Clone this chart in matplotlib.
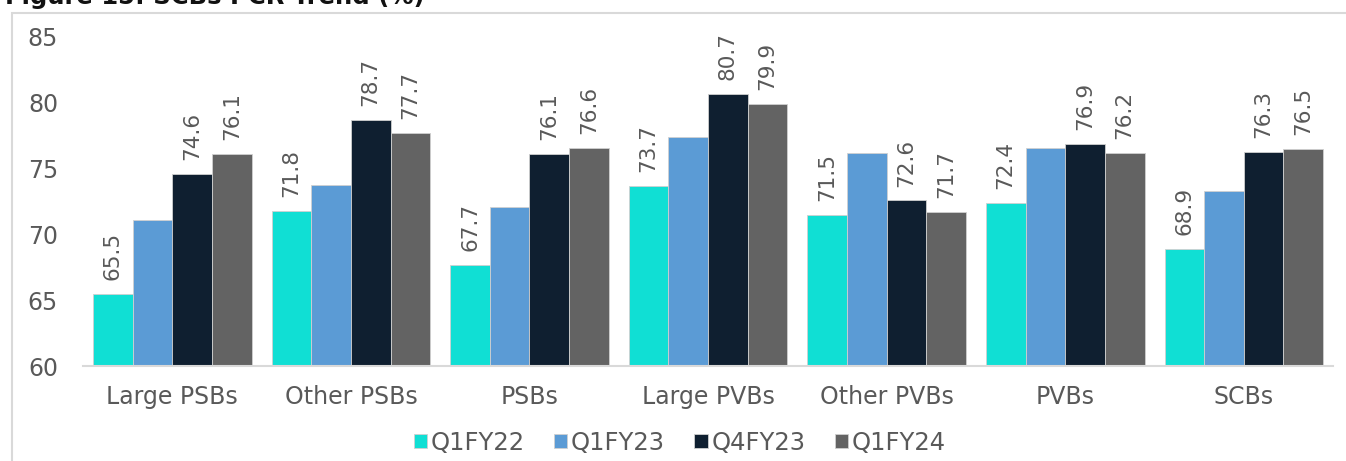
import numpy as np
import matplotlib
matplotlib.use("Agg")
import matplotlib.pyplot as plt
from matplotlib.patches import Rectangle

# PCR by bank group, four quarters
categories = ["Large PSBs", "Other PSBs", "PSBs", "Large PVBs", "Other PVBs", "PVBs", "SCBs"]
quarters = ["Q1FY22", "Q1FY23", "Q4FY23", "Q1FY24"]
q1fy22 = [65.5, 71.8, 67.7, 73.7, 71.5, 72.4, 68.9]
q1fy23 = [71.1, 73.8, 72.1, 77.4, 76.2, 76.6, 73.3]
q4fy23 = [74.6, 78.7, 76.1, 80.7, 72.6, 76.9, 76.3]
q1fy24 = [76.1, 77.7, 76.6, 79.9, 71.7, 76.2, 76.5]
# Q1FY23 bars carry no value labels
show_label = [True, False, True, True]

colors = ["#10DFD4", "#5B9BD5", "#0F1F30", "#636363"]
text_color = "#595959"

plt.rcParams["font.family"] = ["DejaVu Sans"]

fig = plt.figure(figsize=(13.46, 4.61), dpi=100)
ax = fig.add_axes([0.0617, 0.205, 0.9287, 0.7148])

series = [q1fy22, q1fy23, q4fy23, q1fy24]
x = np.arange(len(categories))
width = 0.222

for i, (vals, name) in enumerate(zip(series, quarters)):
    pos = x + (i - 1.5) * width
    bars = ax.bar(pos, vals, width, color=colors[i], label=name,
                  edgecolor="#d0d0d0", linewidth=0.6, zorder=2)
    if show_label[i]:
        for b, v in zip(bars, vals):
            ax.annotate(f"{v:.1f}", (b.get_x() + b.get_width() / 2, v),
                        xytext=(0, 10), textcoords="offset points",
                        rotation=90, ha="center", va="bottom",
                        fontsize=15.5, color=text_color)

ax.set_ylim(60, 85)
ax.set_yticks([60, 65, 70, 75, 80, 85])
ax.set_xlim(-0.5, len(categories) - 0.5)
ax.set_xticks(x)
ax.set_xticklabels(categories)
ax.tick_params(axis="both", length=0, labelsize=17, colors=text_color)
ax.tick_params(axis="y", pad=18)
ax.tick_params(axis="x", pad=13)

for s in ["top", "right", "left"]:
    ax.spines[s].set_visible(False)
ax.spines["bottom"].set_color("#d9d9d9")
ax.spines["bottom"].set_linewidth(1.5)

handles, labels = ax.get_legend_handles_labels()
leg = fig.legend(handles, labels, loc="center", ncol=4, frameon=False,
                 bbox_to_anchor=(0.505, 0.04), fontsize=17.5,
                 handlelength=0.55, handleheight=0.55, handletextpad=0.15,
                 columnspacing=1.2)
for t in leg.get_texts():
    t.set_color(text_color)

# chart frame, running off the right and bottom edges
fig.patches.append(Rectangle((12 / 1346, -0.1), 1.2, (461 - 13) / 461 + 0.1,
                             transform=fig.transFigure, fill=False,
                             edgecolor="#d9d9d9", linewidth=1.5))

# heading above the frame
fig.text(5 / 1346, 1 - 4 / 461, "Figure 15: SCBs PCR Trend (%)",
         fontsize=17.5, fontweight="bold", color="#111111",
         ha="left", va="baseline")

fig.savefig("out.png", dpi=100)
